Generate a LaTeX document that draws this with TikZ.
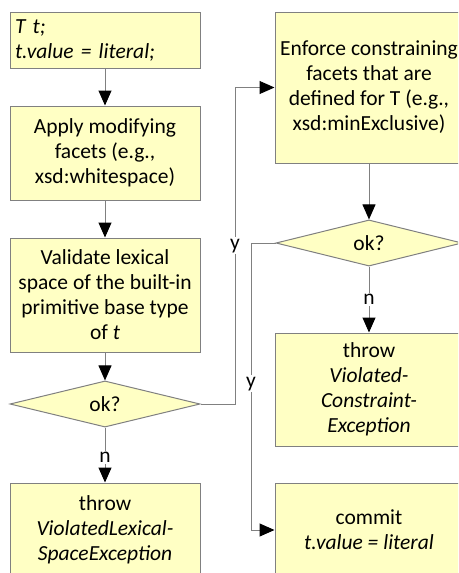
\documentclass[tikz,border=0pt]{standalone}
\usepackage{fontspec}
\setmainfont{Carlito}
\usetikzlibrary{shapes.geometric,arrows.meta}
\definecolor{boxfill}{RGB}{255,255,196}
\definecolor{linegray}{RGB}{128,128,128}
\begin{document}
\begin{tikzpicture}[x=1pt,y=-1pt,
  font=\fontsize{21.5}{25}\selectfont,
  every node/.style={inner sep=0pt},
  stepbox/.style={draw=linegray,line width=1pt,fill=boxfill,rectangle,align=center},
  testbox/.style={draw=linegray,line width=1pt,fill=boxfill,diamond,align=center},
  flow/.style={draw=linegray,line width=1pt,-{Triangle[length=15pt,width=13pt,color=black]}},
  lbl/.style={fill=white,inner sep=1.5pt}]
\useasboundingbox (0,0) rectangle (458,573);
\clip (0,0) rectangle (458,573);

% left column
\node[stepbox,minimum width=190,minimum height=56,align=left,text width=180] (init) at (105,40)
  {\itshape T t;\\ \itshape t.value = literal;};
\node[stepbox,minimum width=190,minimum height=94] (apply) at (105,153)
  {Apply modifying\\facets (e.g.,\\xsd:whitespace)};
\node[stepbox,minimum width=190,minimum height=114] (lex) at (105,295)
  {Validate lexical\\space of the built-in\\primitive base type\\of \textit{t}};
\node[testbox,minimum width=190,minimum height=44] (ok1) at (105,404) {ok?};
\node[stepbox,minimum width=190,minimum height=94] (lexerr) at (105,530)
  {throw\\\textit{ViolatedLexical-}\\\textit{SpaceException}};

% right column
\node[stepbox,minimum width=188,minimum height=151] (enforce) at (369,87.5)
  {Enforce constraining\\facets that are\\defined for T (e.g.,\\xsd:minExclusive)};
\node[testbox,minimum width=186,minimum height=46] (ok2) at (369,243) {ok?};
\node[stepbox,minimum width=188,minimum height=113] (conerr) at (369,389.5)
  {throw\\\textit{Violated-}\\\textit{Constraint-}\\\textit{Exception}};
\node[stepbox,minimum width=188,minimum height=94] (commit) at (369,530)
  {commit\\\textit{t.value = literal}};

% routing points
\coordinate (up) at (235,404);
\coordinate (down) at (251,243);

% connectors
\draw[flow] (init) -- (apply);
\draw[flow] (apply) -- (lex);
\draw[flow] (lex) -- (ok1);
\draw[flow] (ok1) -- node[lbl,pos=0.54] {n} (lexerr);
\draw[flow] (ok1.east) -- (up) |- node[lbl,pos=0.25] {y} (enforce.west);
\draw[flow] (enforce) -- (ok2);
\draw[flow] (ok2) -- node[lbl,pos=0.5] {n} (conerr);
\draw[flow] (ok2.west) -- (down) |- node[lbl,pos=0.245] {y} (commit.west);
\end{tikzpicture}
\end{document}
